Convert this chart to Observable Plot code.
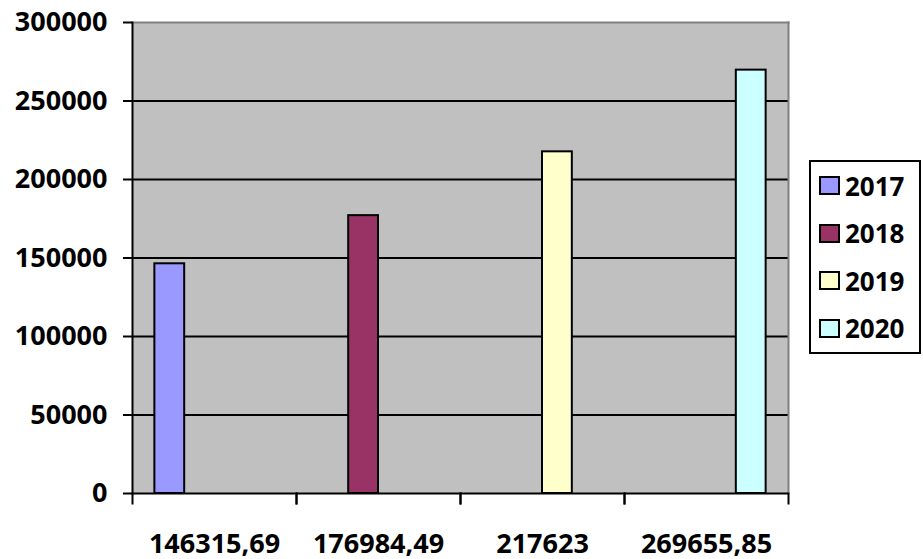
<!DOCTYPE html>
<html><head><meta charset="utf-8">
<script src="https://cdn.jsdelivr.net/npm/d3@7"></script>
<script src="https://cdn.jsdelivr.net/npm/@observablehq/plot@0.6"></script>
<style>
body{margin:0;background:#fff;}
#wrap{position:relative;width:923px;height:559px;font-family:"Open Sans",Lato,sans-serif;}
#legend{position:absolute;left:809px;top:160px;width:112px;height:194px;border:2px solid #000;box-sizing:border-box;background:#fff;display:flex;flex-direction:column;justify-content:space-around;padding-left:8px;}
.item{display:flex;align-items:center;font-weight:700;font-size:26px;line-height:1;color:#000;}
.sw{width:17px;height:15px;border:2px solid #000;margin-right:5px;}
</style></head><body><div id="wrap"><div id="legend"></div></div>
<script>
const categories = ["146315,69","176984,49","217623","269655,85"];
const series = ["2017","2018","2019","2020"];
const values = [146315.69,176984.49,217623,269655.85];
const colors = ["#9999FF","#993366","#FFFFCC","#CCFFFF"];
const yTicks = [0,50000,100000,150000,200000,250000,300000];

const W=923,H=559,mT=22,mB=66,mL=132,mR=135;
const plotH = H-mT-mB;
const data = categories.map((c,i)=>({category:c, series:series[i], value:values[i]}));

const chart = Plot.plot({
  width:W, height:H, marginTop:mT, marginBottom:mB, marginLeft:mL, marginRight:mR,
  style:{fontFamily:"'Open Sans', sans-serif", fontWeight:700, fontSize:"27px", color:"#000", background:"transparent", overflow:"visible"},
  fx:{domain:categories, padding:0, axis:"bottom", label:null, tickSize:0, tickPadding:40},
  x:{domain:series, paddingInner:0, paddingOuter:0.75, round:false, axis:null},
  y:{domain:[0,300000], axis:null},
  color:{domain:series, range:colors},
  marks:[
    Plot.frame({fill:"#c0c0c0", facet:"super"}),
    Plot.ruleY(yTicks.slice(1,-1), {stroke:"#000", strokeWidth:2}),
    Plot.frame({anchor:"top", stroke:"#808080", strokeWidth:2, facet:"super"}),
    Plot.frame({anchor:"right", stroke:"#808080", strokeWidth:2, facet:"super"}),
    Plot.barY(data, {fx:"category", x:"series", y:"value", fill:"series", stroke:"#000", strokeWidth:2}),
    Plot.frame({anchor:"left", stroke:"#000", strokeWidth:2, insetTop:plotH, insetBottom:-10}),
    Plot.frame({anchor:"right", stroke:"#000", strokeWidth:2, insetTop:plotH, insetBottom:-10}),
    Plot.ruleY([0], {stroke:"#000", strokeWidth:2}),
    Plot.frame({anchor:"left", stroke:"#000", strokeWidth:2, facet:"super"}),
    Plot.axisY(yTicks, {tickSize:9, tickPadding:16, strokeWidth:2, label:null, strokeOpacity:1, tickFormat:d=>String(d)})
  ]
});
document.getElementById("wrap").prepend(chart);

const legend = document.getElementById("legend");
series.forEach((s,i)=>{
  const it = document.createElement("div"); it.className="item";
  const sw = document.createElement("div"); sw.className="sw"; sw.style.background=colors[i];
  const t = document.createElement("span"); t.textContent=s;
  it.append(sw,t); legend.append(it);
});
</script></body></html>
